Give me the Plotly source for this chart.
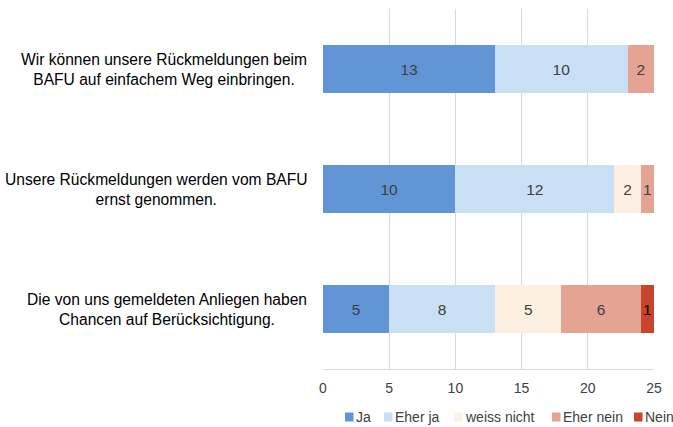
import plotly.graph_objects as go

categories = [
    "Wir können unsere Rückmeldungen beim<br>BAFU auf einfachem Weg einbringen.",
    "Unsere Rückmeldungen werden vom BAFU<br>ernst genommen.",
    "Die von uns gemeldeten Anliegen haben<br>Chancen auf Berücksichtigung.",
]
series_names = ["Ja", "Eher ja", "weiss nicht", "Eher nein", "Nein"]
ja = [13, 10, 5]
eher_ja = [10, 12, 8]
weiss_nicht = [0, 2, 5]
eher_nein = [2, 1, 6]
nein = [0, 0, 1]
colors = ["#6195D5", "#C9DFF3", "#FDF0E3", "#E5A394", "#C8442A"]
text_colors = ["#404040", "#404040", "#404040", "#404040", "#000000"]
x_ticks = [0, 5, 10, 15, 20, 25]

FONT = "Liberation Sans, Arial, sans-serif"
ids = ["c0", "c1", "c2"]

# plot area geometry (pixels)
W, H = 673, 427
ML, MR, MT, MB = 323, 19, 9, 58
PW, PH = W - ML - MR, H - MT - MB


def px_x(px):
    return (px - ML) / PW


def px_y(py):
    return (H - MB - py) / PH


fig = go.Figure()
for name, vals, col, tcol in zip(series_names, [ja, eher_ja, weiss_nicht, eher_nein, nein], colors, text_colors):
    fig.add_trace(go.Bar(
        name=name, y=ids, x=vals, orientation="h", width=0.4,
        marker=dict(color=col, line=dict(width=0)),
        text=[str(v) if v else "" for v in vals],
        textposition="inside", insidetextanchor="middle", constraintext="none",
        textfont=dict(family=FONT, size=15.5, color=tcol),
        hoverinfo="x+name", showlegend=False, cliponaxis=False,
    ))

for cid, label in zip(ids, categories):
    fig.add_annotation(
        x=px_x(309), xref="paper", y=cid, yref="y", text=label,
        xanchor="right", yanchor="middle", align="center", showarrow=False,
        font=dict(family=FONT, size=15.6, color="#000000"),
    )

# legend (drawn manually to reproduce the compact single-row layout)
legend_square_left = [345, 384, 454, 552, 634]
legend_y = 417
for name, col, sx in zip(series_names, colors, legend_square_left):
    fig.add_shape(type="rect", xref="paper", yref="paper",
                  x0=px_x(sx), x1=px_x(sx + 8.5), y0=px_y(legend_y - 4.5), y1=px_y(legend_y + 4.5),
                  fillcolor=col, line=dict(width=0), layer="above")
    fig.add_annotation(x=px_x(sx + 9), xref="paper", y=px_y(legend_y), yref="paper",
                       text=name, showarrow=False, xanchor="left", yanchor="middle",
                       font=dict(family=FONT, size=14, color="#404040"))

fig.update_layout(
    width=W, height=H,
    margin=dict(l=ML, r=MR, t=MT, b=MB, autoexpand=False),
    barmode="stack",
    plot_bgcolor="white", paper_bgcolor="white",
    font=dict(family=FONT, color="#404040"),
    xaxis=dict(range=[0, 25], tickvals=x_ticks, showgrid=True, gridcolor="#D9D9D9",
               gridwidth=1, zeroline=False, showline=True, linecolor="#D9D9D9",
               tickfont=dict(family=FONT, size=14, color="#404040"), ticks="",
               ticklabelstandoff=6),
    yaxis=dict(categoryorder="array", categoryarray=ids, range=[2.5, -0.5],
               showticklabels=False, showgrid=False, zeroline=False, showline=False),
    showlegend=False,
)

fig.write_html("out.html", config={"displayModeBar": False},
               post_script="document.body.style.margin='0';document.body.style.overflow='hidden';")
